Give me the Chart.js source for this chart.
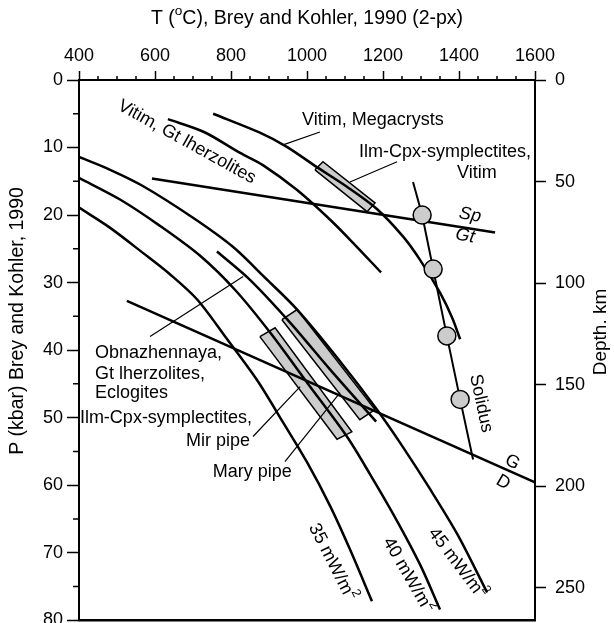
<!DOCTYPE html>
<html>
<head>
<meta charset="utf-8">
<script src="https://cdn.jsdelivr.net/npm/chart.js@4.4.0/dist/chart.umd.min.js"></script>
<style>
html, body { margin: 0; padding: 0; background: #fff; overflow: hidden; }
#wrap { position: relative; width: 614px; height: 640px; }
</style>
</head>
<body>
<div id="wrap"><canvas id="c"></canvas></div>
<script>
// axis ticks
var tempTicks = [400, 600, 800, 1000, 1200, 1400, 1600];
var pressTicks = [0, 10, 20, 30, 40, 50, 60, 70, 80];
var depthTicks = [0, 50, 100, 150, 200, 250];
var depthMax = 266;

// geotherms (T in C, P in kbar)
var geo45T = [400, 482, 568, 700, 805, 890, 974, 1079, 1184, 1253, 1324, 1397, 1474];
var geo45P = [11.4, 13.3, 15.7, 20.4, 24.7, 29.3, 34.0, 41.1, 48.8, 54.4, 60.6, 67.4, 75.9];
var geo40T = [400, 508, 613, 718, 811, 903, 1000, 1105, 1166, 1232, 1297, 1350];
var geo40P = [14.5, 17.7, 21.6, 26.0, 31.1, 37.4, 44.8, 52.8, 58.4, 64.8, 71.7, 78.4];
var geo35T = [400, 482, 568, 640, 711, 790, 868, 937, 1000, 1061, 1113, 1171];
var geo35P = [18.9, 21.9, 25.6, 28.8, 32.5, 38.4, 44.4, 50.7, 56.6, 63.1, 69.5, 77.2];

// Obnazhennaya geotherm
var obnT = [763, 850, 955, 1061, 1182];
var obnP = [25.4, 29.6, 35.9, 42.9, 50.6];
// Vitim geotherms
var vitGtT = [634, 729, 824, 884, 974, 1061, 1126, 1195];
var vitGtP = [5.8, 7.7, 10.8, 12.6, 16.3, 20.7, 24.4, 28.5];
var vitMegT = [753, 876, 947, 1026, 1105, 1184, 1253, 1297, 1350, 1382, 1403];
var vitMegP = [5.0, 7.8, 9.9, 12.9, 15.8, 19.1, 23.2, 26.6, 31.5, 35.2, 38.4];

// phase boundaries
var spGtT = [592, 1495];
var spGtP = [14.6, 22.6];
var gdT = [526, 1600];
var gdP = [32.7, 59.6];
var solidusT = [1279, 1303, 1332, 1368, 1403, 1437];
var solidusP = [15.1, 20.0, 28.0, 37.9, 47.3, 56.2];
var circT = [1303, 1332, 1368, 1403];
var circP = [20.0, 28.0, 37.9, 47.3];

// symplectite fields
var boxVitT = [1021, 1042, 1179, 1158, 1021];
var boxVitP = [13.3, 12.1, 18.2, 19.5, 13.3];
var boxMirT = [876, 916, 1118, 1079, 876];
var boxMirP = [38.0, 36.7, 52.1, 53.2, 38.0];
var boxMaryT = [934, 974, 1179, 1139, 934];
var boxMaryP = [35.5, 34.0, 48.8, 50.3, 35.5];

// leader lines
var leadMegT = [937, 1034];   var leadMegP = [9.6, 7.7];
var leadVitT = [1113, 1237];  var leadVitP = [15.1, 12.1];
var leadObnT = [587, 832];    var leadObnP = [38.0, 29.1];
var leadMirT = [858, 982];    var leadMirP = [52.8, 45.4];
var leadMaryT = [942, 1087];  var leadMaryP = [56.5, 46.3];

// text labels, placed in data units (^ marks a superscript char)
var labels = [
	{s: 'Vitim, Megacrysts', t: 987, p: 5.9, a: 'left'},
	{s: 'Ilm-Cpx-symplectites,', t: 1363, p: 10.65},
	{s: 'Vitim', t: 1447, p: 13.75},
	{s: 'Vitim, Gt lherzolites', t: 684, p: 9.2, r: 29},
	{s: 'Sp', t: 1429, p: 20.0, r: 10, it: true},
	{s: 'Gt', t: 1416, p: 23.1, r: 10, it: true},
	{s: 'Solidus', t: 1458, p: 47.9, r: 78},
	{s: 'G', t: 1540, p: 56.6, r: 30},
	{s: 'D', t: 1516, p: 59.6, r: 30},
	{s: '35 mW/m^2', t: 1066, p: 71.4, r: 63},
	{s: '40 mW/m^2', t: 1266, p: 73.35, r: 60},
	{s: '45 mW/m^2', t: 1395, p: 71.6, r: 53},
	{s: 'Obnazhennaya,', t: 442, p: 40.4, a: 'left'},
	{s: 'Gt lherzolites,', t: 442, p: 43.5, a: 'left'},
	{s: 'Eclogites', t: 442, p: 46.4, a: 'left'},
	{s: 'Ilm-Cpx-symplectites,', t: 855, p: 50.0, a: 'right'},
	{s: 'Mir pipe', t: 850, p: 53.5, a: 'right'},
	{s: 'Mary pipe', t: 960, p: 58.0, a: 'right'}
];

var FAMILY = '"Liberation Sans", Arial, sans-serif';

function pts(t, p) {
	var out = [];
	for (var i = 0; i < t.length; i++) {
		out.push({x: t[i], y: p[i]});
	}
	return out;
}

function line(t, p, w, tension) {
	return {data: pts(t, p), showLine: true, borderColor: '#000', borderWidth: w,
		pointRadius: 0, tension: tension || 0, fill: false, order: 1};
}

function box(t, p) {
	return {data: pts(t, p), showLine: true, borderColor: '#000', borderWidth: 1.5,
		backgroundColor: '#cccccc', fill: 'shape', pointRadius: 0, tension: 0, order: 5};
}

// splits "m^2" into normal / superscript parts
function parseRich(s) {
	var parts = [];
	var cur = '';
	for (var i = 0; i < s.length; i++) {
		if (s[i] == '^' && i + 1 < s.length) {
			if (cur) parts.push({t: cur});
			parts.push({t: s[i + 1], sup: true});
			cur = '';
			i++;
		} else {
			cur += s[i];
		}
	}
	if (cur) parts.push({t: cur});
	return parts;
}

function drawRich(ctx, s, x, y, rot, align, size, italic) {
	var parts = parseRich(s);
	var style = italic ? 'italic ' : '';
	var widths = [];
	var total = 0;
	ctx.save();
	ctx.translate(x, y);
	ctx.rotate((rot || 0) * Math.PI / 180);
	parts.forEach(function(p) {
		ctx.font = style + (p.sup ? size * 0.7 : size) + 'px ' + FAMILY;
		var w = ctx.measureText(p.t).width;
		widths.push(w);
		total += w;
	});
	var sx = align == 'left' ? 0 : (align == 'right' ? -total : -total / 2);
	ctx.textBaseline = 'middle';
	ctx.textAlign = 'left';
	ctx.fillStyle = '#000';
	parts.forEach(function(p, i) {
		ctx.font = style + (p.sup ? size * 0.7 : size) + 'px ' + FAMILY;
		ctx.fillText(p.t, sx, p.sup ? -size * 0.4 : 0);
		sx += widths[i];
	});
	ctx.restore();
}

var decor = {
	id: 'decor',
	afterDraw: function(chart) {
		var ctx = chart.ctx;
		var a = chart.chartArea;
		var xs = chart.scales.x;
		var ys = chart.scales.y;
		ctx.save();
		ctx.strokeStyle = '#000';
		// bottom frame
		ctx.lineWidth = 2.5;
		ctx.beginPath();
		ctx.moveTo(a.left - 1, a.bottom);
		ctx.lineTo(a.right + 1, a.bottom);
		ctx.stroke();
		// minor ticks
		ctx.lineWidth = 1.5;
		ctx.beginPath();
		for (var t = 450; t < 1600; t += 50) {
			if (tempTicks.indexOf(t) >= 0) continue;
			var px = xs.getPixelForValue(t);
			ctx.moveTo(px, a.top);
			ctx.lineTo(px, a.top - 4);
		}
		for (var p = 5; p < 80; p += 10) {
			var py = ys.getPixelForValue(p);
			ctx.moveTo(a.left, py);
			ctx.lineTo(a.left - 6, py);
		}
		ctx.stroke();
		ctx.restore();

		labels.forEach(function(l) {
			drawRich(ctx, l.s, xs.getPixelForValue(l.t), ys.getPixelForValue(l.p),
				l.r || 0, l.a || 'center', 18, l.it);
		});

		// axis titles
		drawRich(ctx, 'T (^oC), Brey and Kohler, 1990 (2-px)', (a.left + a.right) / 2, 19, 0, 'center', 19.5);
		drawRich(ctx, 'P (kbar) Brey and Kohler, 1990', 18, 321, -90, 'center', 19.5);
		drawRich(ctx, 'Depth. km', 601, 332, -90, 'center', 19);
	}
};

var tickFont = {size: 18, family: FAMILY};
function plain(v) { return String(v); }

var ctx = document.getElementById('c').getContext('2d');
var myChart = new Chart(ctx, {
	type: 'scatter',
	data: {
		datasets: [
			{data: pts(circT, circP), showLine: false, pointRadius: 9, pointBackgroundColor: '#cccccc',
				pointBorderColor: '#000', pointBorderWidth: 1.5, order: 0},
			line(geo45T, geo45P, 2.5, 0.3),
			line(geo40T, geo40P, 2.5, 0.3),
			line(geo35T, geo35P, 2.5, 0.3),
			line(obnT, obnP, 2.5, 0.3),
			line(vitGtT, vitGtP, 2.5, 0.3),
			line(vitMegT, vitMegP, 2.5, 0.3),
			line(spGtT, spGtP, 2.5),
			line(gdT, gdP, 2.5),
			line(solidusT, solidusP, 2),
			line(leadMegT, leadMegP, 1.2),
			line(leadVitT, leadVitP, 1.2),
			line(leadObnT, leadObnP, 1.2),
			line(leadMirT, leadMirP, 1.2),
			line(leadMaryT, leadMaryP, 1.2),
			box(boxVitT, boxVitP),
			box(boxMirT, boxMirP),
			box(boxMaryT, boxMaryP)
		]
	},
	options: {
		responsive: true,
		maintainAspectRatio: false,
		animation: false,
		layout: {padding: {left: 0, right: 0, top: 0, bottom: 19}},
		plugins: {legend: {display: false}, tooltip: {enabled: false}},
		scales: {
			x: {
				type: 'linear', position: 'top', min: 400, max: 1600,
				afterBuildTicks: function(s) { s.ticks = tempTicks.map(function(v) { return {value: v}; }); },
				afterFit: function(s) { s.height = 80; },
				ticks: {font: tickFont, color: '#000', padding: 4, maxRotation: 0, autoSkip: false, callback: plain},
				grid: {drawOnChartArea: false, drawTicks: true, tickLength: 9, tickColor: '#000', tickWidth: 1.5},
				border: {display: true, color: '#000', width: 2}
			},
			y: {
				type: 'linear', position: 'left', reverse: true, min: 0, max: 80,
				afterBuildTicks: function(s) { s.ticks = pressTicks.map(function(v) { return {value: v}; }); },
				afterFit: function(s) { s.width = 79; },
				ticks: {font: tickFont, color: '#000', padding: 4, autoSkip: false, callback: plain},
				grid: {drawOnChartArea: false, drawTicks: true, tickLength: 12, tickColor: '#000', tickWidth: 1.5},
				border: {display: true, color: '#000', width: 2}
			},
			y2: {
				type: 'linear', position: 'right', reverse: true, min: 0, max: depthMax, display: true,
				afterBuildTicks: function(s) { s.ticks = depthTicks.map(function(v) { return {value: v}; }); },
				afterFit: function(s) { s.width = 79; },
				ticks: {font: tickFont, color: '#000', padding: 9, autoSkip: false, callback: plain},
				grid: {drawOnChartArea: false, drawTicks: true, tickLength: 11, tickColor: '#000', tickWidth: 1.5},
				border: {display: true, color: '#000', width: 2}
			}
		}
	},
	plugins: [decor]
});
</script>
</body>
</html>
